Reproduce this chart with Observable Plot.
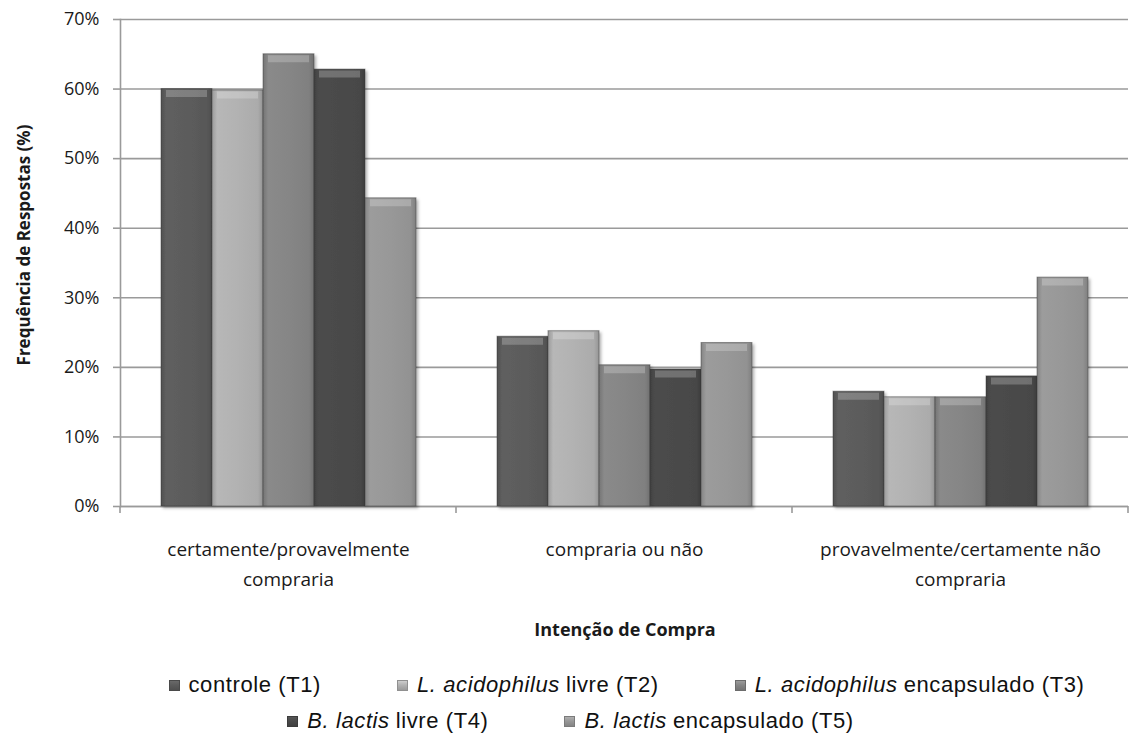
<!DOCTYPE html>
<html>
<head>
<meta charset="utf-8">
<script src="https://cdn.jsdelivr.net/npm/d3@7"></script>
<script src="https://cdn.jsdelivr.net/npm/@observablehq/plot@0.6"></script>
<style>
  body { margin: 0; background: #fff; }
  #wrap { position: relative; width: 1141px; height: 751px; font-family: "Open Sans", sans-serif; color: #1a1a1a; }
  #chart { position: absolute; left: 0; top: 0; }
  #ylabel { position: absolute; left: 23px; top: 245px; transform: translate(-50%, -50%) rotate(-90deg); white-space: nowrap; font-weight: bold; font-size: 17px; }
  #xlabel { position: absolute; left: 625px; top: 629px; transform: translate(-50%, -50%); white-space: nowrap; font-weight: bold; font-size: 18px; }
  .legrow { position: absolute; left: 0; width: 1141px; display: flex; justify-content: center; gap: 76px; font-family: "Liberation Sans", Arial, sans-serif; font-size: 22px; letter-spacing: 0.6px; color: #111; }
  .legitem { display: flex; align-items: center; white-space: nowrap; }
  .sw { width: 11px; height: 11px; margin-right: 9px; box-sizing: border-box; }
  #chart svg text { font-size: inherit; }
</style>
</head>
<body>
<div id="wrap">
  <div id="chart"></div>
  <div id="ylabel"></div>
  <div id="xlabel"></div>
</div>
<script>
// ---- data ----
const categories = [
  "certamente/provavelmente compraria",
  "compraria ou não",
  "provavelmente/certamente não compraria"
];
const categoryTickLabels = [
  "certamente/provavelmente\ncompraria",
  "compraria ou não",
  "provavelmente/certamente não\ncompraria"
];
const seriesKeys = ["T1", "T2", "T3", "T4", "T5"];
const seriesItalic = ["", "L. acidophilus", "L. acidophilus", "B. lactis", "B. lactis"];
const seriesText = ["controle (T1)", "livre (T2)", "encapsulado (T3)", "livre (T4)", "encapsulado (T5)"];
const seriesColors = ["#5c5c5c", "#b2b2b2", "#868686", "#4a4a4a", "#989898"];
const valuesT1 = [60.0, 24.4, 16.5];
const valuesT2 = [59.8, 25.2, 15.7];
const valuesT3 = [65.0, 20.3, 15.7];
const valuesT4 = [62.8, 19.7, 18.7];
const valuesT5 = [44.3, 23.5, 32.9];
const yTicks = [0, 10, 20, 30, 40, 50, 60, 70];
const yLabel = "Frequência de Respostas (%)";
const xLabel = "Intenção de Compra";

const seriesValues = [valuesT1, valuesT2, valuesT3, valuesT4, valuesT5];
const data = categories.flatMap((c, i) =>
  seriesKeys.map((s, j) => ({ category: c, series: s, value: seriesValues[j][i] }))
);

const chart = Plot.plot({
  width: 1141,
  height: 600,
  marginTop: 19,
  marginBottom: 94,
  marginLeft: 120,
  marginRight: 13,
  style: { fontFamily: "Open Sans, sans-serif", fontSize: "18px", color: "#1a1a1a", overflow: "visible", background: "#fff" },
  fx: { domain: categories, padding: 0, label: null },
  x: { domain: seriesKeys, paddingInner: 0, paddingOuter: 0.755, axis: null },
  y: { domain: [0, 70], label: null },
  color: { domain: seriesKeys, range: seriesColors },
  marks: [
    Plot.gridY(yTicks, { stroke: "#9a9a9a", strokeOpacity: 1, strokeWidth: 1.6 }),
    Plot.ruleY([0], { stroke: "#9a9a9a", strokeWidth: 1.6 }),
    Plot.frame({ anchor: "left", facetAnchor: "left", stroke: "#9a9a9a", strokeWidth: 1.6 }),
    Plot.rectY(data, {
      fx: "category", x: "series", y: "value", fill: "series",
      stroke: "#333", strokeOpacity: 0.45, strokeWidth: 1,
      className: "bars"
    }),
    Plot.tickY(data, {
      fx: "category", x: "series", y: "value",
      stroke: "#fff", strokeOpacity: 0.22, strokeWidth: 7, dy: 4.5, inset: 5
    }),
    Plot.axisY({
      ticks: yTicks, tickFormat: d => d + "%", tickSize: 7, tickPadding: 14,
      stroke: "#9a9a9a", strokeWidth: 1.6, fontSize: 18, label: null, fill: "#1a1a1a"
    }),
    Plot.axisFx({
      anchor: "bottom",
      tickFormat: d => categoryTickLabels[categories.indexOf(d)],
      tickSize: 0, tickPadding: 28, lineHeight: 1.6, fontSize: 19, label: null, fill: "#1a1a1a"
    })
  ]
});

// gradients for 3D bar look
const svg = d3.select(chart);
const defs = svg.insert("defs", ":first-child");
seriesColors.forEach((c, i) => {
  const base = d3.color(c);
  const grad = defs.append("linearGradient").attr("id", "grad" + i).attr("x1", 0).attr("x2", 1).attr("y1", 0).attr("y2", 0);
  grad.append("stop").attr("offset", "0%").attr("stop-color", base.darker(0.4));
  grad.append("stop").attr("offset", "10%").attr("stop-color", base.brighter(0.08));
  grad.append("stop").attr("offset", "50%").attr("stop-color", base);
  grad.append("stop").attr("offset", "90%").attr("stop-color", base.darker(0.12));
  grad.append("stop").attr("offset", "100%").attr("stop-color", base.darker(0.5));
});
const filt = defs.append("filter").attr("id", "shadow").attr("x", "-20%").attr("y", "-5%").attr("width", "140%").attr("height", "115%");
filt.append("feDropShadow").attr("dx", 2).attr("dy", 2).attr("stdDeviation", 1.5).attr("flood-color", "#000").attr("flood-opacity", 0.3);
const colorToIndex = new Map(seriesColors.map((c, i) => [d3.color(c).formatHex(), i]));
svg.selectAll("rect").each(function () {
  const f = this.getAttribute("fill");
  if (!f) return;
  const col = d3.color(f);
  const hex = col ? col.formatHex() : null;
  if (hex != null && colorToIndex.has(hex)) {
    this.setAttribute("fill", "url(#grad" + colorToIndex.get(hex) + ")");
    this.setAttribute("filter", "url(#shadow)");
  }
});

// boundary ticks below the category axis (positions from the plot's fx scale)
const fx = chart.scale("fx");
const yS = chart.scale("y");
const y0 = yS.apply(0);
const edges = categories.map(c => fx.apply(c));
const step = edges.length > 1 ? edges[1] - edges[0] : fx.bandwidth;
edges.push(edges[edges.length - 1] + step);
const tg = svg.append("g");
edges.forEach(xe => {
  tg.append("line").attr("x1", xe).attr("x2", xe).attr("y1", y0).attr("y2", y0 + 7).attr("stroke", "#9a9a9a").attr("stroke-width", 1.6);
});

document.getElementById("chart").appendChild(chart);
document.getElementById("ylabel").textContent = yLabel;
document.getElementById("xlabel").textContent = xLabel;

// legend
const wrap = document.getElementById("wrap");
const rows = [[0, 1, 2], [3, 4]];
const rowTops = [672, 708];
const rowShift = [56, 0];
rows.forEach((r, ri) => {
  const row = document.createElement("div");
  row.className = "legrow";
  row.style.top = rowTops[ri] + "px";
  row.style.transform = `translateX(${rowShift[ri]}px)`;
  r.forEach(i => {
    const item = document.createElement("div");
    item.className = "legitem";
    const sw = document.createElement("div");
    sw.className = "sw";
    const base = d3.color(seriesColors[i]);
    sw.style.background = `linear-gradient(to bottom, ${base.brighter(0.4)}, ${base} 45%, ${base.darker(0.4)})`;
    sw.style.border = `1px solid ${base.darker(0.6)}`;
    item.appendChild(sw);
    if (seriesItalic[i]) {
      const it = document.createElement("i");
      it.textContent = seriesItalic[i];
      it.style.marginRight = "6px";
      item.appendChild(it);
    }
    const tx = document.createElement("span");
    tx.textContent = seriesText[i];
    item.appendChild(tx);
    row.appendChild(item);
  });
  wrap.appendChild(row);
});
</script>
</body>
</html>
